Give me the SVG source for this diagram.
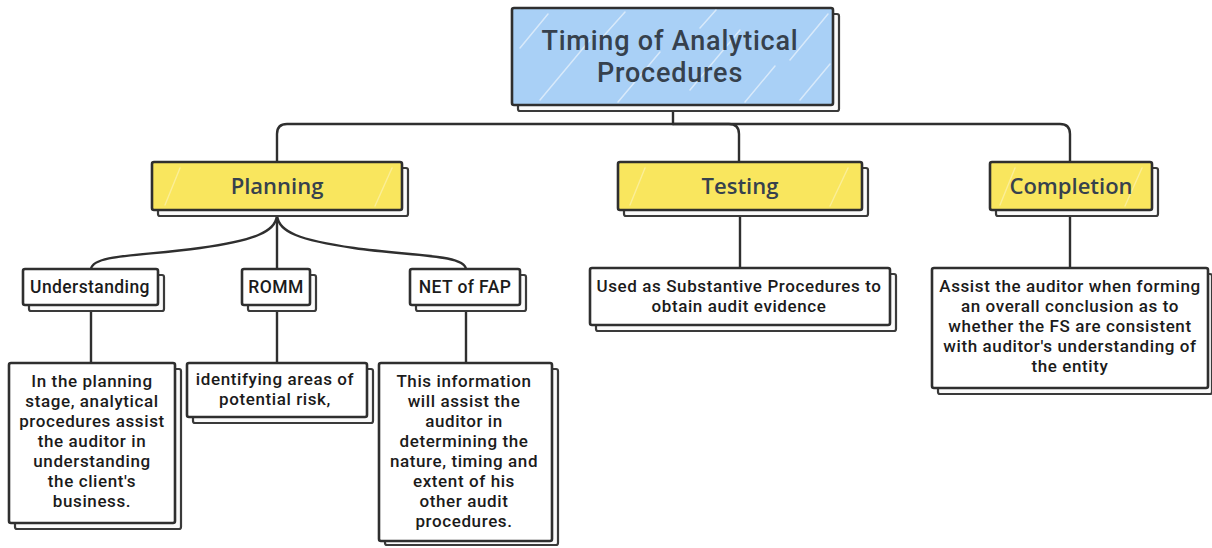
<svg xmlns="http://www.w3.org/2000/svg" width="1212" height="548" viewBox="0 0 1212 548">
  <style>
    .box { stroke: #2f2f2f; stroke-width: 2.6; stroke-linejoin: round; }
    .shadow { fill: #fafafa; stroke: #3a3a3a; stroke-width: 2.2; }
    .plain { fill: #ffffff; }
    .blue { fill: #a9d0f6; }
    .yellow { fill: #f9e65e; }
    .hatch { stroke: #ffffff; stroke-width: 1.5; stroke-linecap: round; opacity: 0.55; }
    .hatch-y { stroke: #ffffff; stroke-width: 1.4; stroke-linecap: round; opacity: 0.35; }
    .conn { fill: none; stroke: #2f2f2f; stroke-width: 2.4; stroke-linecap: round; stroke-linejoin: round; }
    .head { font-family: "Open Sans", "Liberation Sans", sans-serif; font-weight: 600; fill: #36414d; text-anchor: middle; }
    .title { font-family: Roboto, "Liberation Sans", sans-serif; font-weight: 500; font-size: 27px; letter-spacing: 0.8px; }
    .phase { font-size: 22px; }
    .label { font-family: Roboto, "Liberation Sans", sans-serif; font-weight: 500; font-size: 17px; letter-spacing: 0.6px; fill: #1b1b1b; text-anchor: middle; }
    .topic { font-size: 17.5px; letter-spacing: 0.4px; }
  </style>
  <defs>
    <clipPath id="clipTitle"><rect x="512" y="8" width="321" height="97"/></clipPath>
  </defs>

  <!-- connectors -->
  <g id="connectors">
    <path class="conn" d="M673,110 V124 H287 Q277,124 277,134 V162"/>
    <path class="conn" d="M673,124 H729 Q739,124 739,134 V162"/>
    <path class="conn" d="M673,124 H1060 Q1070,124 1070,134 V162"/>
    <path class="conn" d="M277,212 V269"/>
    <path class="conn" d="M277,216 C275,232 255,240 200,248 S93,254 91,269"/>
    <path class="conn" d="M277,216 C279,232 299,240 354,248 S464,254 466,269"/>
    <path class="conn" d="M91,305 V363"/>
    <path class="conn" d="M277,305 V363"/>
    <path class="conn" d="M466,305 V363"/>
    <path class="conn" d="M740,210 V268"/>
    <path class="conn" d="M1070,210 V268"/>
  </g>

  <!-- root -->
  <g id="node-title">
    <rect class="shadow" x="518" y="14" width="321" height="97" rx="2"/>
    <rect class="box blue" x="512" y="8" width="321" height="97" rx="2"/>
    <g clip-path="url(#clipTitle)">
      <line class="hatch" x1="520" y1="48" x2="548" y2="14"/>
      <line class="hatch" x1="540" y1="100" x2="590" y2="40"/>
      <line class="hatch" x1="600" y1="40" x2="625" y2="12"/>
      <line class="hatch" x1="618" y1="102" x2="660" y2="52"/>
      <line class="hatch" x1="690" y1="90" x2="740" y2="30"/>
      <line class="hatch" x1="745" y1="102" x2="775" y2="66"/>
      <line class="hatch" x1="790" y1="60" x2="828" y2="14"/>
      <line class="hatch" x1="800" y1="100" x2="830" y2="64"/>
      <line class="hatch" x1="700" y1="28" x2="716" y2="10"/>
    </g>
    <text class="head title" x="670" y="50">Timing of Analytical</text>
    <text class="head title" x="670" y="82">Procedures</text>
  </g>

  <!-- phases -->
  <g id="node-planning">
    <rect class="shadow" x="158" y="168" width="250" height="48" rx="2"/>
    <rect class="box yellow" x="152" y="162" width="250" height="48" rx="2"/>
    <line class="hatch-y" x1="165" y1="205" x2="180" y2="168"/>
    <line class="hatch-y" x1="375" y1="206" x2="392" y2="168"/>
    <text class="head phase" x="277" y="194">Planning</text>
  </g>
  <g id="node-testing">
    <rect class="shadow" x="624" y="168" width="244" height="48" rx="2"/>
    <rect class="box yellow" x="618" y="162" width="244" height="48" rx="2"/>
    <line class="hatch-y" x1="630" y1="205" x2="645" y2="168"/>
    <line class="hatch-y" x1="830" y1="206" x2="848" y2="168"/>
    <text class="head phase" x="740" y="194">Testing</text>
  </g>
  <g id="node-completion">
    <rect class="shadow" x="996" y="168" width="162" height="48" rx="2"/>
    <rect class="box yellow" x="990" y="162" width="162" height="48" rx="2"/>
    <line class="hatch-y" x1="1000" y1="205" x2="1015" y2="168"/>
    <line class="hatch-y" x1="1125" y1="206" x2="1142" y2="168"/>
    <text class="head phase" x="1071" y="194">Completion</text>
  </g>

  <!-- planning topics -->
  <g id="node-understanding">
    <rect class="shadow" x="29" y="275" width="135" height="36" rx="2"/>
    <rect class="box plain" x="23" y="269" width="135" height="36" rx="2"/>
    <text class="label topic" x="90" y="293">Understanding</text>
  </g>
  <g id="node-romm">
    <rect class="shadow" x="248" y="275" width="68" height="36" rx="2"/>
    <rect class="box plain" x="242" y="269" width="68" height="36" rx="2"/>
    <text class="label topic" x="276" y="293">ROMM</text>
  </g>
  <g id="node-netfap">
    <rect class="shadow" x="416" y="275" width="110" height="36" rx="2"/>
    <rect class="box plain" x="410" y="269" width="110" height="36" rx="2"/>
    <text class="label topic" x="465" y="293">NET of FAP</text>
  </g>

  <!-- details -->
  <g id="node-understanding-detail">
    <rect class="shadow" x="15" y="369" width="166" height="160" rx="2"/>
    <rect class="box plain" x="9" y="363" width="166" height="160" rx="2"/>
    <text class="label" x="92" y="387">In the planning</text>
    <text class="label" x="92" y="407">stage, analytical</text>
    <text class="label" x="92" y="427">procedures assist</text>
    <text class="label" x="92" y="447">the auditor in</text>
    <text class="label" x="92" y="467">understanding</text>
    <text class="label" x="92" y="487">the client's</text>
    <text class="label" x="92" y="507">business.</text>
  </g>
  <g id="node-romm-detail">
    <rect class="shadow" x="193" y="369" width="180" height="54" rx="2"/>
    <rect class="box plain" x="187" y="363" width="180" height="54" rx="2"/>
    <text class="label" x="275" y="385">identifying areas of</text>
    <text class="label" x="275" y="405">potential risk,</text>
  </g>
  <g id="node-netfap-detail">
    <rect class="shadow" x="385" y="369" width="173" height="176" rx="2"/>
    <rect class="box plain" x="379" y="363" width="173" height="178" rx="2"/>
    <text class="label" x="464" y="387">This information</text>
    <text class="label" x="464" y="407">will assist the</text>
    <text class="label" x="464" y="427">auditor in</text>
    <text class="label" x="464" y="447">determining the</text>
    <text class="label" x="464" y="467">nature, timing and</text>
    <text class="label" x="464" y="487">extent of his</text>
    <text class="label" x="464" y="507">other audit</text>
    <text class="label" x="464" y="527">procedures.</text>
  </g>
  <g id="node-testing-detail">
    <rect class="shadow" x="596" y="274" width="300" height="57" rx="2"/>
    <rect class="box plain" x="590" y="268" width="300" height="57" rx="2"/>
    <text class="label" x="739" y="292">Used as Substantive Procedures to</text>
    <text class="label" x="739" y="312">obtain audit evidence</text>
  </g>
  <g id="node-completion-detail">
    <rect class="shadow" x="938" y="274" width="274" height="120" rx="2"/>
    <rect class="box plain" x="932" y="268" width="276" height="120" rx="2"/>
    <text class="label" x="1070" y="292">Assist the auditor when forming</text>
    <text class="label" x="1070" y="312">an overall conclusion as to</text>
    <text class="label" x="1070" y="332">whether the FS are consistent</text>
    <text class="label" x="1070" y="352">with auditor's understanding of</text>
    <text class="label" x="1070" y="372">the entity</text>
  </g>
</svg>
